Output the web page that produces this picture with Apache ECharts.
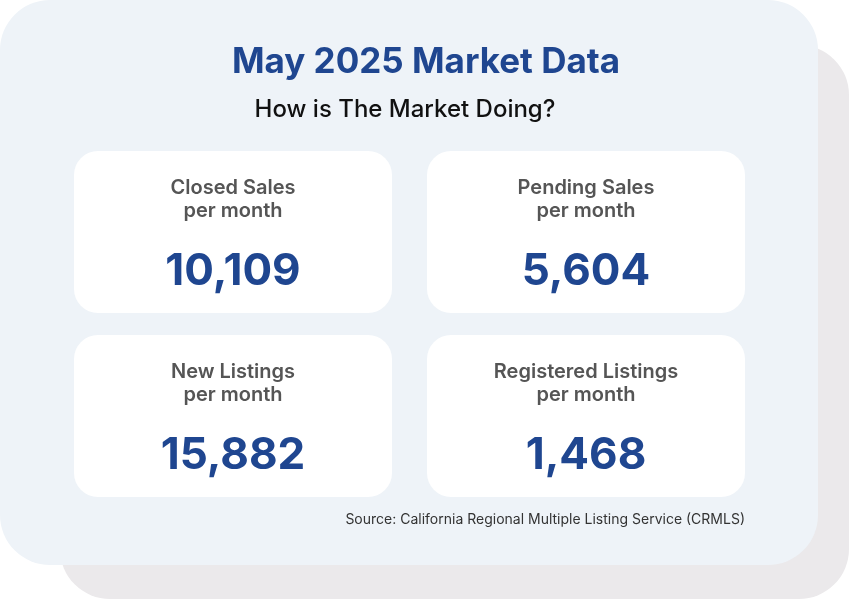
<!DOCTYPE html>
<html>
<head>
<meta charset="utf-8">
<script src="https://cdn.jsdelivr.net/npm/echarts@6/dist/echarts.min.js"></script>
<style>
  html, body { margin: 0; padding: 0; background: #ffffff; }
  #chart { width: 849px; height: 599px; }
</style>
</head>
<body>
<div id="chart"></div>
<script>
const titleText = "May 2025 Market Data";
const subtitleText = "How is The Market Doing?";
const metricNames = ["Closed Sales", "Pending Sales", "New Listings", "Registered Listings"];
const metricUnits = ["per month", "per month", "per month", "per month"];
const metricValues = [10109, 5604, 15882, 1468];
const sourceText = "Source: California Regional Multiple Listing Service (CRMLS)";

const chart = echarts.init(document.getElementById("chart"));
const font = "Inter, 'Noto Sans', sans-serif";
const blue = "#1f4690";

const tilePos = [[74, 151], [427, 151], [74, 335], [427, 335]];
const tileW = 318, tileH = 162;

const tiles = metricValues.map((v, i) => {
  const [x, y] = tilePos[i];
  return {
    type: "group",
    x: x, y: y,
    children: [
      { type: "rect", shape: { x: 0, y: 0, width: tileW, height: tileH, r: 24 }, style: { fill: "#ffffff" } },
      {
        type: "text", x: tileW / 2, y: 37,
        style: { text: metricNames[i], font: "600 20px " + font, fill: "#555555", align: "center", verticalAlign: "middle" }
      },
      {
        type: "text", x: tileW / 2, y: 60,
        style: { text: metricUnits[i], font: "600 20px " + font, fill: "#555555", align: "center", verticalAlign: "middle" }
      },
      {
        type: "text", x: tileW / 2, y: 121,
        style: { text: v.toLocaleString("en-US"), font: "bold 44px " + font, fill: blue, align: "center", verticalAlign: "middle" }
      }
    ]
  };
});

chart.setOption({
  animation: false,
  graphic: [
    { type: "rect", shape: { x: 60, y: 45, width: 789, height: 554, r: 50 }, style: { fill: "#ebe9eb" } },
    { type: "rect", shape: { x: 0, y: 0, width: 818, height: 565, r: 50 }, style: { fill: "#eef3f8" } },
    {
      type: "text", x: 426, y: 62,
      style: { text: titleText, font: "bold 35px " + font, fill: blue, align: "center", verticalAlign: "middle" }
    },
    {
      type: "text", x: 405, y: 110,
      style: { text: subtitleText, font: "500 24px " + font, fill: "#111111", align: "center", verticalAlign: "middle" }
    },
    ...tiles,
    {
      type: "text", x: 745, y: 520,
      style: { text: sourceText, font: "14px " + font, fill: "#333333", align: "right", verticalAlign: "middle" }
    }
  ]
});
</script>
</body>
</html>
